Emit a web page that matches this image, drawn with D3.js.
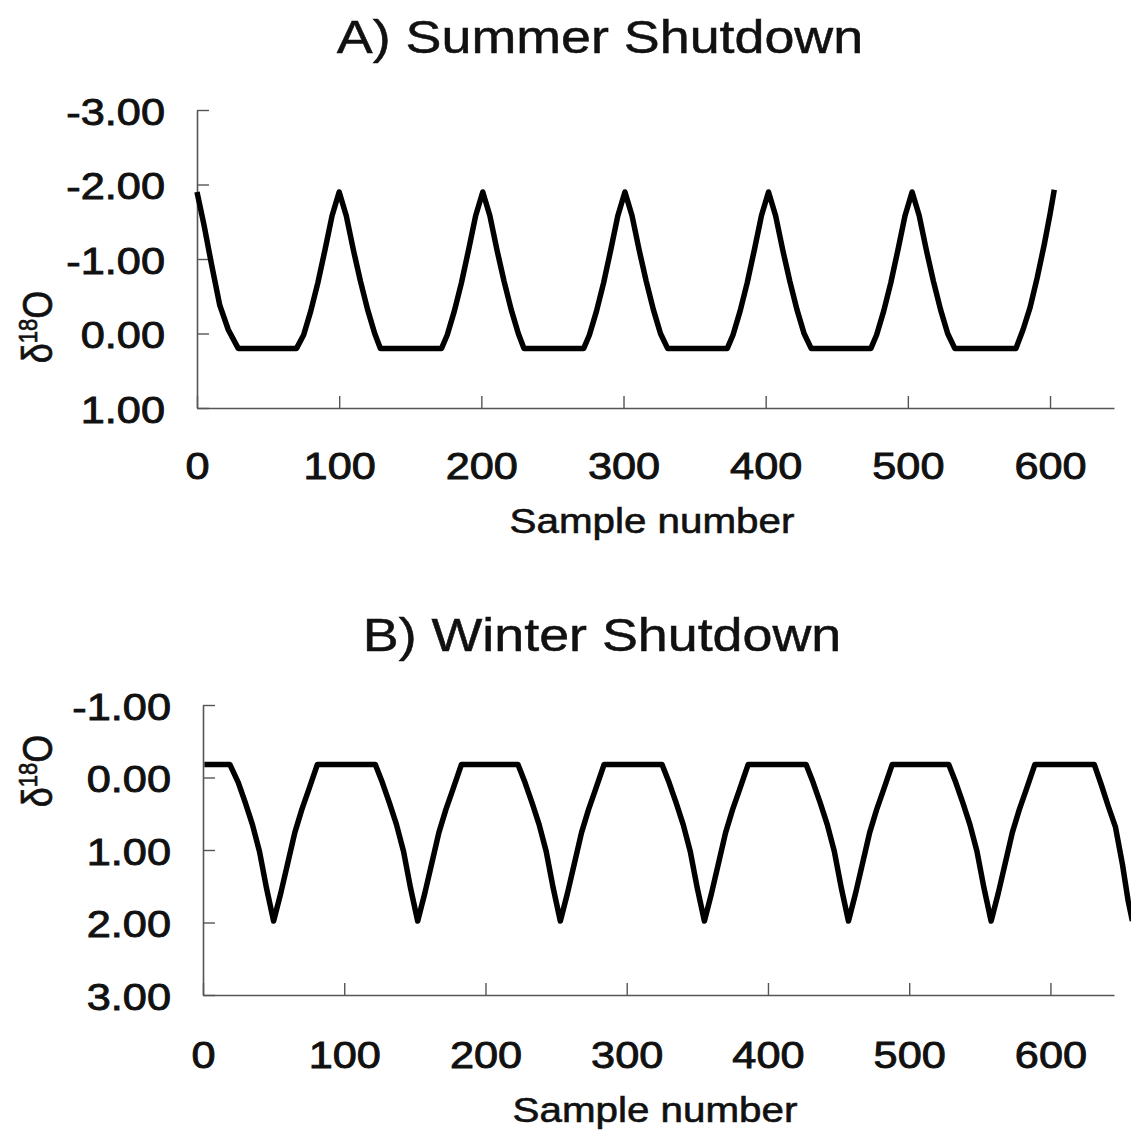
<!DOCTYPE html>
<html><head><meta charset="utf-8">
<script src="https://cdn.jsdelivr.net/npm/d3@7"></script>
<style>body{margin:0;background:#fff;overflow:hidden}</style>
</head><body>
<svg id="c" width="1131" height="1139" style="display:block"></svg>
<script>
// ---- data ----
const xTicks = [0, 100, 200, 300, 400, 500, 600];
const yTicksA = [-3, -2, -1, 0, 1];
const yTicksB = [-1, 0, 1, 2, 3];

const sampleA = [0,5,10,16,22,29,
  70,75,80,85,90,95,100,105,110,115,120,125,129,
  172,176,181,186,191,196,201,206,211,216,221,226,230,
  272,276,281,286,291,296,301,306,311,316,321,326,331,
  373,377,382,387,392,397,402,407,412,417,422,427,432,
  474,478,483,488,493,498,503,508,513,518,523,528,533,
  576,581,586,591,596,600,603];
const valueA = [-1.9,-1.45,-0.95,-0.38,-0.05,0.2,
  0.2,0.02,-0.3,-0.68,-1.12,-1.58,-1.9,-1.58,-1.12,-0.7,-0.32,0.0,0.2,
  0.2,0.02,-0.3,-0.68,-1.12,-1.58,-1.9,-1.58,-1.12,-0.7,-0.32,0.0,0.2,
  0.2,0.02,-0.3,-0.68,-1.12,-1.58,-1.9,-1.58,-1.12,-0.7,-0.32,0.0,0.2,
  0.2,0.02,-0.3,-0.68,-1.12,-1.58,-1.9,-1.58,-1.12,-0.7,-0.32,0.0,0.2,
  0.2,0.02,-0.3,-0.68,-1.12,-1.58,-1.9,-1.58,-1.12,-0.7,-0.32,0.0,0.2,
  0.2,-0.05,-0.35,-0.75,-1.2,-1.6,-1.93];

const sampleB = [1,19,25,30,35,40,45,50,55,60,65,70,75,81,
  122,127,132,137,142,147,152,157,162,167,172,177,183,
  223,228,233,238,243,248,253,258,263,268,273,278,284,
  325,330,335,340,345,350,355,360,365,370,375,380,386,
  427,432,437,442,447,452,457,462,467,472,477,482,488,
  528,533,538,543,548,553,558,563,568,573,578,583,589,
  631,636,641,646,651,655,658];
const valueB = [-0.18,-0.18,0.07,0.35,0.65,1.02,1.53,1.98,1.6,1.18,0.76,0.44,0.16,-0.18,
  -0.18,0.07,0.35,0.65,1.02,1.53,1.98,1.6,1.18,0.76,0.44,0.16,-0.18,
  -0.18,0.07,0.35,0.65,1.02,1.53,1.98,1.6,1.18,0.76,0.44,0.16,-0.18,
  -0.18,0.07,0.35,0.65,1.02,1.53,1.98,1.6,1.18,0.76,0.44,0.16,-0.18,
  -0.18,0.07,0.35,0.65,1.02,1.53,1.98,1.6,1.18,0.76,0.44,0.16,-0.18,
  -0.18,0.07,0.35,0.65,1.02,1.53,1.98,1.6,1.18,0.76,0.44,0.16,-0.18,
  -0.18,0.1,0.4,0.68,1.2,1.7,1.98];

const titles = ["A) Summer Shutdown", "B) Winter Shutdown"];
const xLabel = "Sample number";

// ---- drawing ----
const svg = d3.select("#c");
const FONT = "'Liberation Sans', Arial, Helvetica, sans-serif";
const SX = 1.17;

const panels = [
  {title: titles[0], samples: sampleA, values: valueA, yTicks: yTicksA,
   xr: [197, 1114], yr: [110, 408], titleX: 600, titleY: 53, labX: 652, labY: 533, yLabY: 327,
   xLabOff: 71},
  {title: titles[1], samples: sampleB, values: valueB, yTicks: yTicksB,
   xr: [203, 1114], yr: [705, 995], titleX: 602, titleY: 651, labX: 655, labY: 1122, yLabY: 771,
   xLabOff: 73}
];

function stretchedText(x, y, txt, size, sw) {
  return svg.append("g").attr("transform", `translate(${x},${y})`)
    .append("text").attr("transform", `scale(${SX},1)`)
    .attr("text-anchor", "middle")
    .attr("font-family", FONT).attr("font-size", size).attr("fill", "#111")
    .attr("stroke", "#111").attr("stroke-width", sw)
    .text(txt);
}

panels.forEach(p => {
  const x = d3.scaleLinear().domain([0, 645]).range(p.xr);
  const y = d3.scaleLinear().domain([p.yTicks[0], p.yTicks[p.yTicks.length - 1]]).range(p.yr);

  // y axis
  const ya = svg.append("g").attr("transform", `translate(${p.xr[0]},0)`)
    .call(d3.axisLeft(y).tickValues(p.yTicks).tickSize(-12).tickSizeOuter(0)
      .tickFormat(d => d.toFixed(2)));
  // x axis
  const xa = svg.append("g").attr("transform", `translate(0,${p.yr[1]})`)
    .call(d3.axisBottom(x).tickValues(xTicks).tickSize(-12).tickSizeOuter(0)
      .tickFormat(d => String(d)));

  [ya, xa].forEach(a => {
    a.select(".domain").attr("stroke", "#555").attr("stroke-width", 1.6);
    a.selectAll(".tick line").attr("stroke", "#555").attr("stroke-width", 1.4);
    a.selectAll(".tick text").attr("font-family", FONT).attr("font-size", 37)
      .attr("fill", "#111").attr("stroke", "#111").attr("stroke-width", 0.9);
  });
  ya.selectAll(".tick text").attr("x", -32 / SX).attr("dy", "0.38em")
    .attr("transform", `scale(${SX},1)`);
  xa.selectAll(".tick text").attr("y", p.xLabOff).attr("dy", 0)
    .attr("transform", `scale(${SX},1)`);

  // line
  const pts = p.samples.map((s, i) => [s, p.values[i]]);
  svg.append("path").datum(pts)
    .attr("fill", "none").attr("stroke", "#000").attr("stroke-width", 5.5)
    .attr("stroke-linejoin", "round")
    .attr("d", d3.line().x(d => x(d[0])).y(d => y(d[1])));

  // title and labels
  stretchedText(p.titleX, p.titleY, p.title, 46, 0.5);
  stretchedText(p.labX, p.labY, xLabel, 34.5, 0.6);

  const yl = svg.append("g").attr("transform", `translate(52,${p.yLabY})`)
    .append("text").attr("transform", `rotate(-90) scale(1,${SX})`)
    .attr("text-anchor", "middle").attr("font-family", FONT).attr("fill", "#111")
    .attr("stroke", "#111").attr("stroke-width", 0.6);
  yl.append("tspan").attr("font-size", 36).text("δ");
  yl.append("tspan").attr("font-size", 22).attr("dy", -13).text("18");
  yl.append("tspan").attr("font-size", 36).attr("dy", 13).text("O");
});
</script>
</body></html>
